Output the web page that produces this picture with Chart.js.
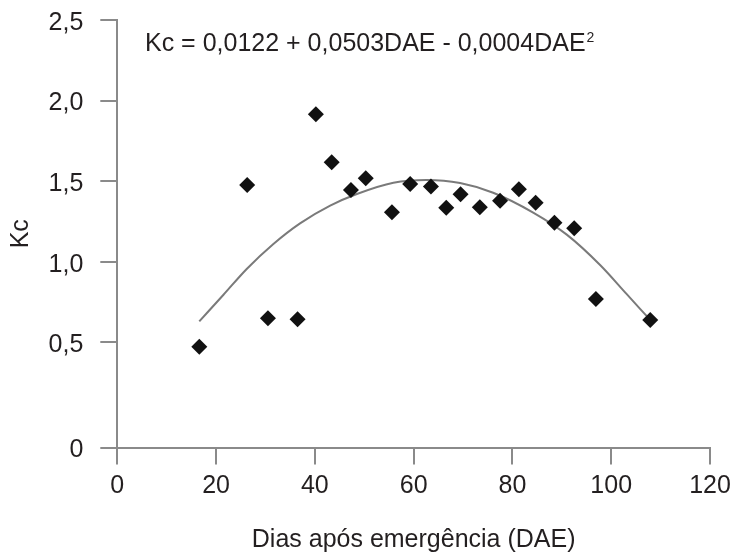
<!DOCTYPE html>
<html>
<head>
<meta charset="utf-8">
<script src="https://cdn.jsdelivr.net/npm/chart.js@4"></script>
<style>
  body { margin: 0; background: #fff; }
</style>
</head>
<body>
<canvas id="kcChart" width="733" height="553"></canvas>
<script>
// measured Kc values (points)
const dae = [16.6, 26.3, 30.5, 36.5, 40.2, 43.4, 47.3, 50.3, 55.6, 59.3, 63.5,
             66.6, 69.5, 73.4, 77.5, 81.3, 84.7, 88.5, 92.5, 96.9, 107.9];
const kc = [0.473, 1.476, 0.649, 0.643, 1.915, 1.617, 1.445, 1.518, 1.307, 1.482, 1.466,
            1.335, 1.418, 1.338, 1.379, 1.449, 1.366, 1.242, 1.207, 0.769, 0.638];

// fitted curve
const curveDae = [16.6, 21.5, 26.2, 31.6, 37.0, 43.1, 48.5, 55.9, 62.6, 69.4, 76.1, 84.2, 91.0, 97.8, 103.1, 107.2];
const curveKc = [0.630, 0.795, 0.955, 1.110, 1.238, 1.348, 1.420, 1.490, 1.507, 1.488, 1.428, 1.305, 1.168, 0.978, 0.800, 0.662];

const xTicks = [0, 20, 40, 60, 80, 100, 120];
const yTickValues = [0, 0.5, 1, 1.5, 2, 2.5];
const yTickLabels = ['0', '0,5', '1,0', '1,5', '2,0', '2,5'];
const yBreak = -0.153; // the axis is broken below 0,5, the "0" sits here

const equation = 'Kc = 0,0122 + 0,0503DAE - 0,0004DAE';

const axisColor = '#8a8a8a';
const textColor = '#231f20';
const fontFamily = '"Liberation Sans", Arial, sans-serif';

const toXY = (xs, ys) => xs.map((x, i) => ({x: x, y: ys[i]}));

// equation text in the top left of the plot
const equationPlugin = {
    id: 'equation',
    afterDraw(chart) {
        const ctx = chart.ctx;
        ctx.save();
        ctx.fillStyle = textColor;
        ctx.textBaseline = 'alphabetic';
        ctx.font = '25px ' + fontFamily;
        ctx.fillText(equation, 145, 51);
        let w = ctx.measureText(equation).width;
        ctx.font = '14px ' + fontFamily;
        ctx.fillText('2', 145 + w + 1, 42);
        ctx.restore();
    }
};

const chart1 = document.getElementById('kcChart');

new Chart(chart1, {
    type: 'scatter',
    data: {
        datasets: [
            {
                label: 'Kc',
                data: toXY(dae, kc),
                pointStyle: 'rectRot',
                pointRadius: 8,
                pointBorderWidth: 0,
                backgroundColor: '#111',
                borderColor: '#111',
                order: 0,
                clip: false
            },
            {
                label: 'ajuste',
                type: 'line',
                data: toXY(curveDae, curveKc),
                borderColor: '#7a7a7a',
                borderWidth: 2,
                pointRadius: 0,
                cubicInterpolationMode: 'monotone',
                fill: false,
                order: 1,
                clip: false
            }
        ]
    },
    options: {
        responsive: false,
        animation: false,
        layout: {
            padding: {top: 20, right: 23, left: 0, bottom: 0}
        },
        plugins: {
            legend: {display: false},
            tooltip: {enabled: false}
        },
        scales: {
            x: {
                type: 'linear',
                min: 0,
                max: 120,
                afterBuildTicks: (scale) => {
                    scale.ticks = xTicks.map(v => ({value: v}));
                },
                afterFit: (scale) => {
                    scale.height = 105.5;
                    scale.paddingLeft = 0;
                    scale.paddingRight = 0;
                },
                grid: {
                    drawOnChartArea: false,
                    drawTicks: true,
                    tickLength: 17,
                    color: axisColor,
                    lineWidth: 2
                },
                border: {display: true, color: axisColor, width: 2},
                ticks: {
                    color: textColor,
                    padding: 7,
                    maxRotation: 0,
                    font: {family: fontFamily, size: 25}
                },
                title: {
                    display: true,
                    text: 'Dias após emergência (DAE)',
                    color: textColor,
                    font: {family: fontFamily, size: 25, lineHeight: 1},
                    padding: {top: 0, bottom: 0}
                }
            },
            y: {
                type: 'linear',
                min: yBreak,
                max: 2.5,
                afterBuildTicks: (scale) => {
                    scale.ticks = yTickValues.map(v => ({value: v === 0 ? yBreak : v}));
                },
                afterFit: (scale) => {
                    scale.width = 117.3;
                    scale.paddingTop = 0;
                    scale.paddingBottom = 0;
                },
                grid: {
                    drawOnChartArea: false,
                    drawTicks: true,
                    tickLength: 17,
                    color: axisColor,
                    lineWidth: 2
                },
                border: {display: true, color: axisColor, width: 2},
                ticks: {
                    color: textColor,
                    padding: 17,
                    labelOffset: 3,
                    font: {family: fontFamily, size: 25},
                    callback: (value, index) => yTickLabels[index]
                },
                title: {
                    display: true,
                    text: 'Kc',
                    color: textColor,
                    font: {family: fontFamily, size: 25, lineHeight: 1},
                    padding: {top: 9, bottom: 0}
                }
            }
        }
    },
    plugins: [equationPlugin]
});
</script>
</body>
</html>
